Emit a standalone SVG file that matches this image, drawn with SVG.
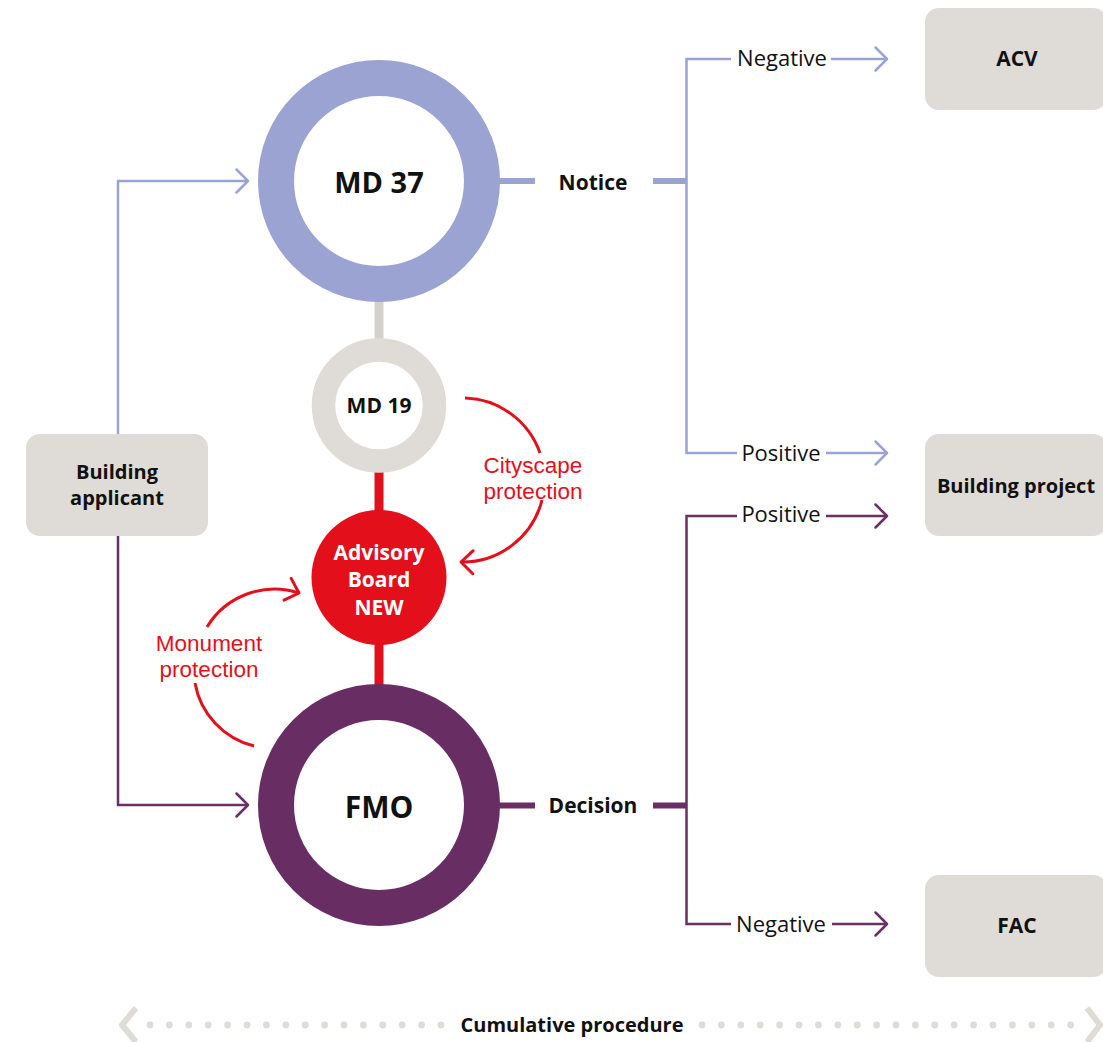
<svg xmlns="http://www.w3.org/2000/svg" width="1103" height="1042" viewBox="0 0 1103 1042">
  <style>
    .bg { fill: #ffffff; }
    .box { fill: #dfdbd7; }
    .thin { fill: none; stroke-width: 2.5; }
    .stub { fill: none; stroke-width: 6; }
    .blue { stroke: #9aa3d2; }
    .purple { stroke: #6a2f65; }
    .red { stroke: #e30f1b; }
    .grey { stroke: #d4d0cc; }
    .arc { fill: none; stroke: #e30f1b; stroke-width: 3; }
    text { font-family: "Open Sans", "Noto Sans", "Liberation Sans", sans-serif; fill: #111111; }
    .bold { font-weight: 700; }
    .white { fill: #ffffff; }
    .lbl { font-size: 22px; text-anchor: middle; }
    .redtxt { font-family: "Liberation Sans", Arial, sans-serif; fill: #e30f1b; font-size: 22.5px; text-anchor: middle; }
    .dot { fill: #dfdbd7; }
  </style>
  <defs>
    <marker id="ah-blue" markerUnits="userSpaceOnUse" markerWidth="30" markerHeight="30" viewBox="-15 -15 30 30" refX="0" refY="0" orient="auto" overflow="visible">
      <path d="M-11.5,-11.5 L0,0 L-11.5,11.5" fill="none" stroke="#9aa3d2" stroke-width="2.5" stroke-linecap="round" stroke-linejoin="round"/>
    </marker>
    <marker id="ah-purple" markerUnits="userSpaceOnUse" markerWidth="30" markerHeight="30" viewBox="-15 -15 30 30" refX="0" refY="0" orient="auto" overflow="visible">
      <path d="M-11.5,-11.5 L0,0 L-11.5,11.5" fill="none" stroke="#6a2f65" stroke-width="2.5" stroke-linecap="round" stroke-linejoin="round"/>
    </marker>
    <marker id="ah-red" markerUnits="userSpaceOnUse" markerWidth="30" markerHeight="30" viewBox="-15 -15 30 30" refX="0" refY="0" orient="auto" overflow="visible">
      <path d="M-12,-11.5 L0,0 L-12,11.5" fill="none" stroke="#e30f1b" stroke-width="3" stroke-linecap="round" stroke-linejoin="round"/>
    </marker>
  </defs>

  <rect class="bg" x="0" y="0" width="1103" height="1042"/>

  <!-- connectors -->
  <g id="connectors">
    <!-- applicant to MD 37 and FMO -->
    <path class="thin blue" d="M118,434 V181 H248" marker-end="url(#ah-blue)"/>
    <path class="thin purple" d="M118,536 V805 H248" marker-end="url(#ah-purple)"/>

    <!-- vertical spine between the rings -->
    <line class="grey" x1="379" y1="298" x2="379" y2="342" stroke-width="9"/>
    <line class="red" x1="379" y1="470" x2="379" y2="514" stroke-width="9"/>
    <line class="red" x1="379" y1="640" x2="379" y2="688" stroke-width="9"/>

    <!-- MD 37 notice branch -->
    <path class="stub blue" d="M498,181 H535"/>
    <path class="stub blue" d="M653,181 H687"/>
    <path class="thin blue" d="M731,59 H686.5 V453 H737"/>
    <path class="thin blue" d="M831,59 H887" marker-end="url(#ah-blue)"/>
    <path class="thin blue" d="M826,453 H887" marker-end="url(#ah-blue)"/>

    <!-- FMO decision branch -->
    <path class="stub purple" d="M498,805.5 H535"/>
    <path class="stub purple" d="M653,805.5 H687"/>
    <path class="thin purple" d="M737,516 H686.5 V924 H731"/>
    <path class="thin purple" d="M826,516 H887" marker-end="url(#ah-purple)"/>
    <path class="thin purple" d="M832,924 H887" marker-end="url(#ah-purple)"/>

    <!-- cityscape protection loop -->
    <path class="arc" d="M465,398 A82,82 0 0 1 540,453"/>
    <path class="arc" d="M542,500 A82,82 0 0 1 461,562" marker-end="url(#ah-red)"/>

    <!-- monument protection loop -->
    <path class="arc" d="M254,746 A79,79 0 0 1 195,683"/>
    <path class="arc" d="M207,627 A79,79 0 0 1 299,593" marker-end="url(#ah-red)"/>
  </g>

  <!-- nodes -->
  <g id="md37">
    <circle cx="379" cy="181" r="103" fill="#ffffff" stroke="#9aa3d2" stroke-width="36"/>
    <text class="bold" x="379" y="193" font-size="29" text-anchor="middle">MD 37</text>
  </g>

  <g id="md19">
    <circle cx="379" cy="405.5" r="55.5" fill="#ffffff" stroke="#dfdbd7" stroke-width="23.5"/>
    <text class="bold" x="379" y="413" font-size="21" text-anchor="middle">MD 19</text>
  </g>

  <g id="advisory-board">
    <circle cx="379" cy="577.5" r="67.5" fill="#e30f1b"/>
    <text class="bold white" font-size="21" text-anchor="middle"><tspan x="379" y="560">Advisory</tspan><tspan x="379" y="587">Board</tspan><tspan x="379" y="615">NEW</tspan></text>
  </g>

  <g id="fmo">
    <circle cx="379" cy="805" r="103" fill="#ffffff" stroke="#682d63" stroke-width="36"/>
    <text class="bold" x="379" y="818" font-size="30" text-anchor="middle">FMO</text>
  </g>

  <g id="building-applicant">
    <rect class="box" x="26" y="434" width="182" height="102" rx="14"/>
    <text class="bold" font-size="20" text-anchor="middle"><tspan x="117" y="479">Building</tspan><tspan x="117" y="505">applicant</tspan></text>
  </g>

  <g id="acv">
    <rect class="box" x="925" y="8" width="182" height="102" rx="14"/>
    <text class="bold" x="1017" y="66" font-size="21" text-anchor="middle">ACV</text>
  </g>

  <g id="building-project">
    <rect class="box" x="925" y="434" width="182" height="102" rx="14"/>
    <text class="bold" x="1016" y="493" font-size="20" text-anchor="middle">Building project</text>
  </g>

  <g id="fac">
    <rect class="box" x="925" y="875" width="182" height="102" rx="14"/>
    <text class="bold" x="1017" y="933" font-size="21" text-anchor="middle">FAC</text>
  </g>

  <!-- branch labels -->
  <g id="labels">
    <text class="bold" x="593" y="190" font-size="21" text-anchor="middle">Notice</text>
    <text class="bold" x="593" y="813" font-size="21" text-anchor="middle">Decision</text>
    <text class="lbl" x="782" y="66">Negative</text>
    <text class="lbl" x="781" y="461">Positive</text>
    <text class="lbl" x="781" y="522">Positive</text>
    <text class="lbl" x="781" y="932">Negative</text>
    <text class="redtxt"><tspan x="533" y="472.5">Cityscape</tspan><tspan x="533" y="498.5">protection</tspan></text>
    <text class="redtxt"><tspan x="209" y="650.5">Monument</tspan><tspan x="209" y="676.5">protection</tspan></text>
  </g>

  <!-- cumulative procedure timeline -->
  <g id="cumulative-procedure">
    <path d="M136,1008 L122,1025 L136,1042" fill="none" stroke="#dfdbd7" stroke-width="6" stroke-linejoin="round"/>
    <path d="M1087,1008 L1100,1025 L1087,1042" fill="none" stroke="#dfdbd7" stroke-width="6" stroke-linejoin="round"/>
    <g class="dot">
      <circle cx="150" cy="1025" r="3.4"/>
      <circle cx="169.4" cy="1025" r="3.4"/>
      <circle cx="188.8" cy="1025" r="3.4"/>
      <circle cx="208.2" cy="1025" r="3.4"/>
      <circle cx="227.6" cy="1025" r="3.4"/>
      <circle cx="247" cy="1025" r="3.4"/>
      <circle cx="266.4" cy="1025" r="3.4"/>
      <circle cx="285.8" cy="1025" r="3.4"/>
      <circle cx="305.2" cy="1025" r="3.4"/>
      <circle cx="324.6" cy="1025" r="3.4"/>
      <circle cx="344" cy="1025" r="3.4"/>
      <circle cx="363.4" cy="1025" r="3.4"/>
      <circle cx="382.8" cy="1025" r="3.4"/>
      <circle cx="402.2" cy="1025" r="3.4"/>
      <circle cx="421.6" cy="1025" r="3.4"/>
      <circle cx="441" cy="1025" r="3.4"/>
      <circle cx="702" cy="1025" r="3.4"/>
      <circle cx="721.4" cy="1025" r="3.4"/>
      <circle cx="740.8" cy="1025" r="3.4"/>
      <circle cx="760.2" cy="1025" r="3.4"/>
      <circle cx="779.6" cy="1025" r="3.4"/>
      <circle cx="799" cy="1025" r="3.4"/>
      <circle cx="818.4" cy="1025" r="3.4"/>
      <circle cx="837.8" cy="1025" r="3.4"/>
      <circle cx="857.2" cy="1025" r="3.4"/>
      <circle cx="876.6" cy="1025" r="3.4"/>
      <circle cx="896" cy="1025" r="3.4"/>
      <circle cx="915.4" cy="1025" r="3.4"/>
      <circle cx="934.8" cy="1025" r="3.4"/>
      <circle cx="954.2" cy="1025" r="3.4"/>
      <circle cx="973.6" cy="1025" r="3.4"/>
      <circle cx="993" cy="1025" r="3.4"/>
      <circle cx="1012.4" cy="1025" r="3.4"/>
      <circle cx="1031.8" cy="1025" r="3.4"/>
      <circle cx="1051.2" cy="1025" r="3.4"/>
      <circle cx="1070.6" cy="1025" r="3.4"/>
    </g>
    <text class="bold" x="572" y="1032" font-size="20" text-anchor="middle">Cumulative procedure</text>
  </g>
</svg>
